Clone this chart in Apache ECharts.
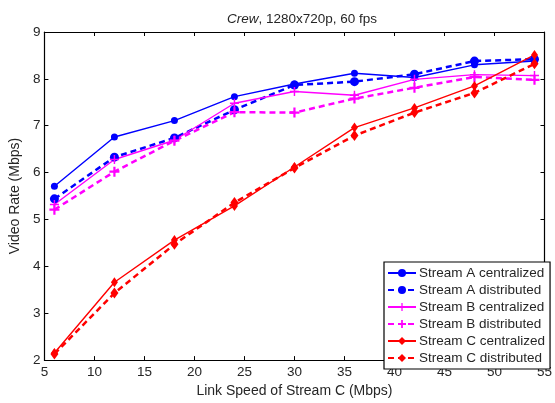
<!DOCTYPE html>
<html>
<head>
<meta charset="utf-8">
<script src="https://cdn.jsdelivr.net/npm/echarts@6/dist/echarts.min.js"></script>
<style>
  html, body { margin: 0; padding: 0; background: #fff; }
  #chart { width: 555px; height: 403px; }
</style>
</head>
<body>
<div id="chart"></div>
<script>
const linkSpeeds = [6, 12, 18, 24, 30, 36, 42, 48, 54];
const streamACentralized = [5.71, 6.76, 7.11, 7.62, 7.89, 8.12, 8.03, 8.30, 8.38];
const streamADistributed = [5.44, 6.33, 6.74, 7.34, 7.87, 7.94, 8.10, 8.38, 8.42];
const streamBCentralized = [5.32, 6.28, 6.69, 7.48, 7.73, 7.65, 7.99, 8.09, 8.07];
const streamBDistributed = [5.21, 6.02, 6.68, 7.29, 7.28, 7.58, 7.81, 8.04, 7.98];
const streamCCentralized = [2.15, 3.66, 4.56, 5.29, 6.12, 6.96, 7.38, 7.85, 8.51];
const streamCDistributed = [2.13, 3.43, 4.47, 5.36, 6.10, 6.79, 7.28, 7.70, 8.32];
const seriesNames = [
  'Stream A centralized', 'Stream A distributed',
  'Stream B centralized', 'Stream B distributed',
  'Stream C centralized', 'Stream C distributed'
];

const FONT = 'Liberation Sans, Arial, Helvetica, sans-serif';
const TEXT = '#262626';
const PLUS_THIN = 'path://M0,4.2 H10 V5.8 H0 Z M4.2,0 H5.8 V10 H4.2 Z';
const PLUS_THICK = 'path://M0,3.9 H10 V6.1 H0 Z M3.9,0 H6.1 V10 H3.9 Z';

function pairs(vals) { return linkSpeeds.map((x, i) => [x, vals[i]]); }

function mk(name, vals, color, dashed, symbol, size) {
  return {
    name: name,
    type: 'line',
    xAxisIndex: 0,
    yAxisIndex: 0,
    data: pairs(vals),
    symbol: symbol,
    symbolSize: size,
    showAllSymbol: true,
    lineStyle: { color: color, width: dashed ? 2.5 : 1.4, type: dashed ? [6, 4] : 'solid' },
    itemStyle: { color: color, borderWidth: 0 },
    emphasis: { disabled: true }
  };
}

const chart = echarts.init(document.getElementById('chart'), null, { renderer: 'canvas' });

const axisCommon = {
  axisLine: { show: true, onZero: false, lineStyle: { color: '#000', width: 1.2 } },
  axisTick: { show: true, inside: true, length: 4, lineStyle: { color: '#000', width: 1 } },
  splitLine: { show: false }
};

chart.setOption({
  animation: false,
  backgroundColor: '#fff',
  textStyle: { fontFamily: FONT },
  title: {
    text: '{i|Crew}, 1280x720p, 60 fps',
    left: 297,
    top: 7,
    textAlign: 'center',
    textStyle: {
      fontFamily: FONT, fontSize: 13.5, fontWeight: 'normal', color: TEXT,
      rich: { i: { fontFamily: FONT, fontSize: 13.5, fontStyle: 'italic', color: TEXT } }
    }
  },
  grid: { left: 41, right: 3, top: 32, bottom: 35, containLabel: false },
  legend: {
    orient: 'vertical',
    left: 384,
    top: 262,
    data: seriesNames,
    itemWidth: 28,
    itemHeight: 10,
    itemGap: 3,
    padding: [4, 5, 4, 3],
    borderColor: '#000',
    borderWidth: 1.2,
    backgroundColor: '#fff',
    textStyle: { fontFamily: FONT, fontSize: 13.5, color: TEXT, padding: [0, 0, 0, -2] },
    selectedMode: false
  },
  xAxis: [
    Object.assign({}, axisCommon, {
      type: 'value', position: 'bottom', min: 5, max: 55, interval: 5,
      name: 'Link Speed of Stream C (Mbps)', nameLocation: 'middle', nameGap: 22,
      nameTextStyle: { fontFamily: FONT, fontSize: 14, color: TEXT },
      axisLabel: { show: true, margin: 5, fontFamily: FONT, fontSize: 13.5, color: TEXT, showMaxLabel: true, showMinLabel: true }
    }),
    Object.assign({}, axisCommon, {
      type: 'value', position: 'top', min: 5, max: 55, interval: 5,
      axisLabel: { show: false }
    })
  ],
  yAxis: [
    Object.assign({}, axisCommon, {
      type: 'value', position: 'left', min: 2, max: 9, interval: 1,
      name: 'Video Rate (Mbps)', nameLocation: 'middle', nameGap: 10,
      nameTextStyle: { fontFamily: FONT, fontSize: 14, color: TEXT },
      axisLabel: { show: true, margin: 4, fontFamily: FONT, fontSize: 13.5, color: TEXT }
    }),
    Object.assign({}, axisCommon, {
      type: 'value', position: 'right', min: 2, max: 9, interval: 1,
      axisLabel: { show: false }
    })
  ],
  series: [
    mk(seriesNames[0], streamACentralized, '#0000ff', false, 'circle', 7),
    mk(seriesNames[1], streamADistributed, '#0000ff', true, 'circle', 9),
    mk(seriesNames[2], streamBCentralized, '#ff00ff', false, PLUS_THIN, 9),
    mk(seriesNames[3], streamBDistributed, '#ff00ff', true, PLUS_THICK, 10),
    mk(seriesNames[4], streamCCentralized, '#ff0000', false, 'diamond', [7, 10]),
    mk(seriesNames[5], streamCDistributed, '#ff0000', true, 'diamond', [8, 11])
  ]
});
</script>
</body>
</html>
